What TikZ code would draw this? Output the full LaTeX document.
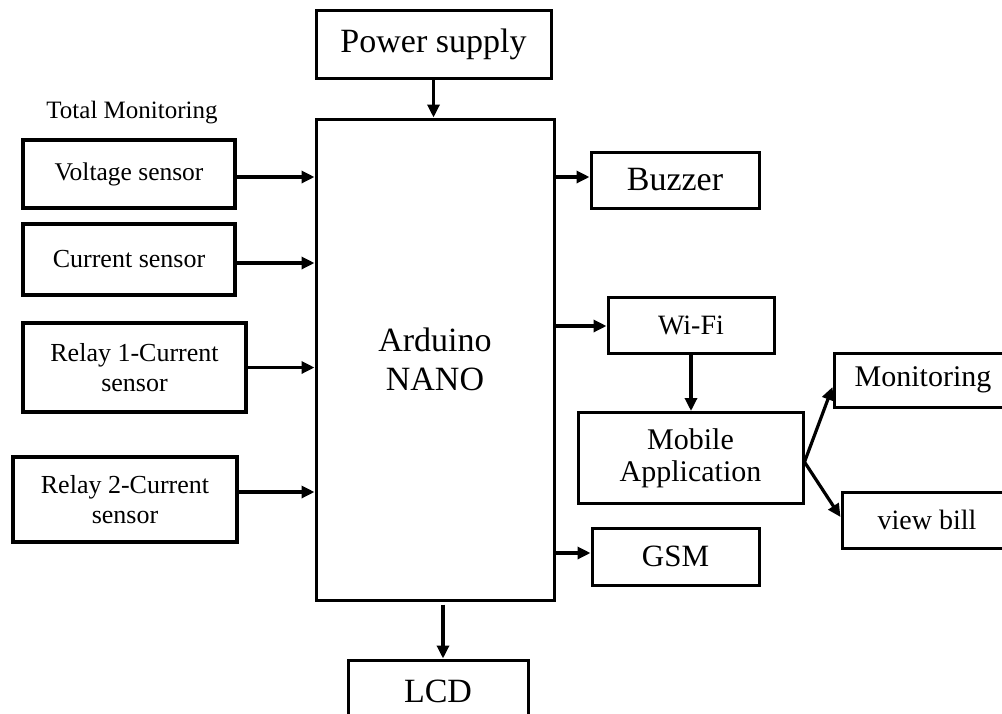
\documentclass[tikz,border=0pt]{standalone}
\usepackage{fontspec}
\setmainfont{Liberation Serif}
\usetikzlibrary{arrows.meta}

\newcommand{\fsz}[1]{\fontsize{#1}{#1}\selectfont}

\begin{document}
\begin{tikzpicture}[x=1pt, y=-1pt,
  blk/.style={draw, line width=3pt, inner sep=0pt, align=center},
  sensorblk/.style={blk, line width=4.8pt, font=\fontsize{26}{30}\selectfont},
  arr/.style={line width=3.2pt, -{Triangle[length=13pt, width=12pt]}}]
  \clip (0,0) rectangle (1002,713);
  \fill[white] (0,0) rectangle (1002,713);

  % ---- centre ----
  \node[blk, minimum width=235pt, minimum height=68pt, font=\fsz{34}] (pwr) at (433.5,44) {Power supply};
  \node[blk, minimum width=238pt, minimum height=481pt, font=\fontsize{34}{39}\selectfont] (ard) at (435,359.5) {Arduino\\NANO};
  \node[blk, minimum width=180pt, minimum height=62pt, font=\fsz{34}] (lcd) at (438,691) {LCD};

  % ---- inputs ----
  \node[font=\fsz{25}] (title) at (132,113) {Total Monitoring};
  \node[sensorblk, minimum width=212pt, minimum height=68pt, font=\fsz{25.5}] (volt) at (129,174) {Voltage sensor};
  \node[sensorblk, minimum width=212pt, minimum height=71pt] (curr) at (129,259.5) {Current sensor};
  \node[sensorblk, minimum width=223pt, minimum height=89pt] (rlyA) at (134.5,367.5) {Relay 1-Current\\sensor};
  \node[sensorblk, minimum width=224pt, minimum height=85pt] (rlyB) at (125,499.5) {Relay 2-Current\\sensor};

  % ---- outputs ----
  \node[blk, minimum width=168pt, minimum height=56pt, font=\fsz{34}] (buz) at (675,180) {Buzzer};
  \node[blk, minimum width=166pt, minimum height=56pt, font=\fsz{28}] (wifi) at (691,325) {Wi-Fi};
  \node[blk, minimum width=225pt, minimum height=91pt, font=\fontsize{30}{32}\selectfont] (mob) at (690.5,458) {Mobile\\Application};
  \node[blk, minimum width=178pt, minimum height=54pt, font=\fsz{30}] (mon) at (923,380) {Monitoring};
  \node[blk, minimum width=170pt, minimum height=56pt, font=\fsz{28}] (bill) at (927,520) {view bill};
  \node[blk, minimum width=167pt, minimum height=57pt, font=\fsz{31}] (gsm) at (675.5,556.5) {GSM};

  % ---- arrows ----
  \draw[arr] (pwr.south) -- (pwr.south |- ard.north);
  \draw[arr] ([yshift=-3pt]volt.east) -- ([yshift=-3pt]volt.east -| ard.west);
  \draw[arr] ([yshift=-3.5pt]curr.east) -- ([yshift=-3.5pt]curr.east -| ard.west);
  \draw[arr] (rlyA.east) -- (rlyA.east -| ard.west);
  \draw[arr] ([yshift=7.5pt]rlyB.east) -- ([yshift=7.5pt]rlyB.east -| ard.west);
  \draw[arr] ([yshift=3pt]buz.west -| ard.east) -- ([yshift=3pt]buz.west);
  \draw[arr] ([yshift=-1pt]wifi.west -| ard.east) -- ([yshift=-1pt]wifi.west);
  \draw[arr] ([yshift=3.5pt]gsm.west -| ard.east) -- ([yshift=3.5pt]gsm.west);
  \draw[arr] ([xshift=5pt,yshift=-3pt]lcd.north |- ard.south) -- ([xshift=5pt]lcd.north);
  \draw[arr] (wifi.south) -- (wifi.south |- mob.north);
  \coordinate (fork) at ([yshift=-4pt]mob.east);
  \draw[arr] (fork) -- ([yshift=-7pt]mon.west);
  \draw[arr] (fork) -- ([yshift=3pt]bill.west);
\end{tikzpicture}
\end{document}
